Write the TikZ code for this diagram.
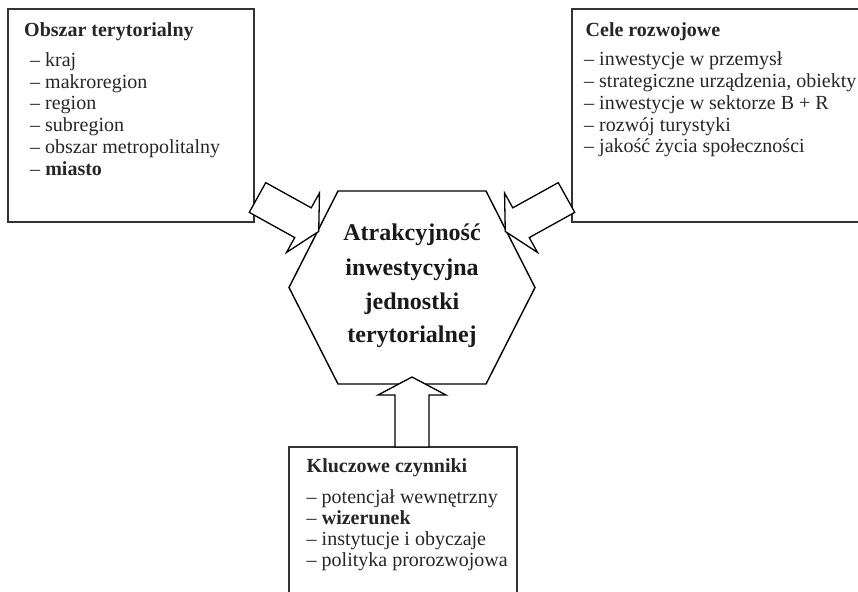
\documentclass[tikz,border=0pt]{standalone}
\usepackage{fontspec}
\setmainfont{Liberation Serif}
\begin{document}
\begin{tikzpicture}[x=1pt,y=-1pt,
  panel/.style={draw=black!80, line width=1.5pt, fill=white, inner sep=0, outer sep=0},
  blockarr/.style={draw=black, line width=1.3pt, fill=white, line join=miter},
  hexa/.style={draw=black, line width=1.4pt, line join=miter},
  item/.style={anchor=base west, inner sep=0, font=\fontsize{20}{22}\selectfont, text=black!85},
  headline/.style={item, font=\bfseries\fontsize{20}{22}\selectfont},
  core/.style={anchor=base, inner sep=0, font=\bfseries\fontsize{24}{34}\selectfont, text=black!90},
  pics/blockarrow/.style={code={\draw[blockarr] (0,-17) -- (52,-17) -- (52,-34) -- (70,0) -- (52,34) -- (52,17) -- (0,17) -- cycle;}}
]
\useasboundingbox (0,0) rectangle (858,591);
\clip (0,0) rectangle (858,591);
\fill[white] (0,0) rectangle (858,591);

% boxes
\node[panel, anchor=north west, minimum width=246, minimum height=213] (lbox) at (8,9) {};
\node[panel, anchor=north west, minimum width=308, minimum height=213] (rbox) at (572,9) {};
\node[panel, anchor=north west, minimum width=228, minimum height=180] (bbox) at (289,447) {};

% hexagon
\coordinate (hA) at (338,191);
\coordinate (hB) at (486,191);
\coordinate (hC) at (535,287.5);
\coordinate (hD) at (486,384);
\coordinate (hE) at (338,384);
\coordinate (hF) at (289,287.5);
\draw[hexa] (hA) -- (hB) -- (hC) -- (hD) -- (hE) -- (hF) -- cycle;

% block arrows
\pic[rotate=-29] (larr) at (257.5,197.5) {blockarrow};
\pic[rotate=209] (rarr) at (566.5,197.5) {blockarrow};
\pic[rotate=90] (barr) at (412,447) {blockarrow};

% centre text
\node[core] (c1) at (412,240.7) {Atrakcyjność};
\node[core] (c2) at (412,275.5) {inwestycyjna};
\node[core] (c3) at (412,309) {jednostki};
\node[core] (c4) at (412,342.7) {terytorialnej};

% left box text
\node[headline] (l0) at (24,37) {Obszar terytorialny};
\node[item] (l1) at (30,66.5) {– kraj};
\node[item] (l2) at (30,88.2) {– makroregion};
\node[item] (l3) at (30,109.9) {– region};
\node[item] (l4) at (30,131.6) {– subregion};
\node[item] (l5) at (30,153.3) {– obszar metropolitalny};
\node[item] (l6) at (30,175) {– \textbf{miasto}};

% right box text
\node[headline] (r0) at (585.5,37) {Cele rozwojowe};
\node[item] (r1) at (584,66) {– inwestycje w przemysł};
\node[item] (r2) at (584,87.7) {– strategiczne urządzenia, obiekty};
\node[item] (r3) at (584,109.4) {– inwestycje w sektorze B + R};
\node[item] (r4) at (584,131) {– rozwój turystyki};
\node[item] (r5) at (584,152.7) {– jakość życia społeczności};

% bottom box text
\node[headline] (b0) at (306.5,472) {Kluczowe czynniki};
\node[item] (b1) at (306.5,503) {– potencjał wewnętrzny};
\node[item] (b2) at (306.5,524) {– \textbf{wizerunek}};
\node[item] (b3) at (306.5,545) {– instytucje i obyczaje};
\node[item] (b4) at (306.5,566) {– polityka prorozwojowa};
\end{tikzpicture}
\end{document}
